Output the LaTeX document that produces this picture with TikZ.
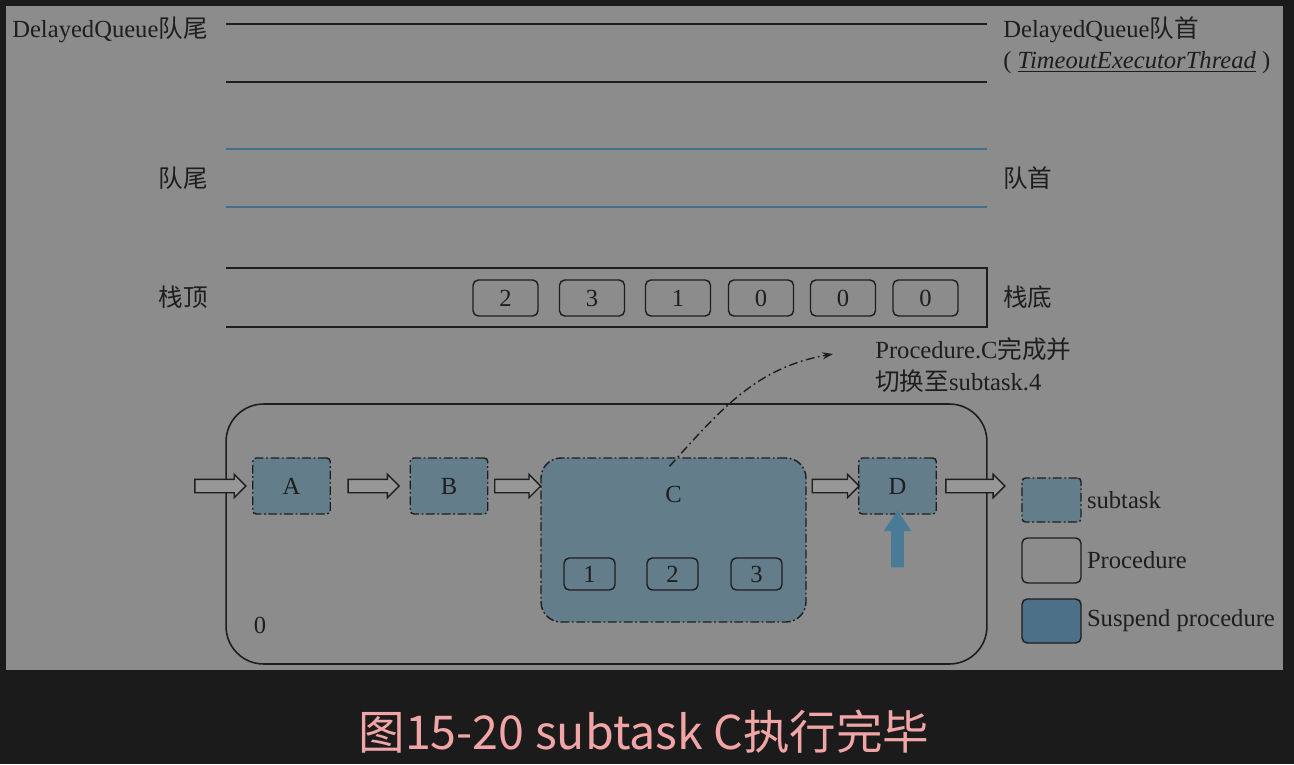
\documentclass[tikz,border=0pt]{standalone}
\usepackage{fontspec}
\setmainfont{Liberation Serif}
\newfontfamily\cjk{Noto Sans CJK SC}
\usepackage{tikz}
\usetikzlibrary{shapes.arrows, arrows.meta, positioning, calc}
\usepackage{xcolor}
\definecolor{pagedark}{HTML}{1B1B1B}
\definecolor{panel}{HTML}{8C8C8C}
\definecolor{ink}{HTML}{1E1E1E}
\definecolor{qblue}{HTML}{41718A}
\definecolor{subfill}{HTML}{647D8B}
\definecolor{suspfill}{HTML}{4B7088}
\definecolor{flowfill}{HTML}{979797}
\definecolor{upblue}{HTML}{4A7B96}
\definecolor{capink}{HTML}{F2A5A6}
\newcommand{\zhtext}[1]{{\cjk #1}}
\tikzset{
    lbl/.style={inner sep=0pt, text=ink, font=\fontsize{14}{18}\selectfont},
    queueline/.style={draw=ink, line width=1.2pt},
    blueline/.style={draw=qblue, line width=1.2pt},
    slot/.style={rectangle, draw=ink, line width=0.8pt, rounded corners=3pt, minimum width=1.3cm, minimum height=0.72cm, text=ink, font=\fontsize{14}{18}\selectfont},
    subtask/.style={rectangle, draw=ink, fill=subfill, line width=0.8pt, rounded corners=2pt,
        dash pattern=on 5pt off 1.5pt on 1pt off 1.5pt, minimum width=1.55cm, minimum height=1.12cm,
        text=ink, font=\fontsize{14}{18}\selectfont},
    procbox/.style={rectangle, draw=ink, line width=0.8pt, rounded corners=3pt, minimum width=1.02cm, minimum height=0.64cm,
        text=ink, font=\fontsize{14}{18}\selectfont},
    flow/.style={single arrow, draw=ink, fill=flowfill, line width=0.8pt, inner sep=0.12cm,
        single arrow head extend=0.1cm, single arrow head indent=0pt, minimum height=1.02cm},
    uparrow/.style={single arrow, fill=upblue, inner sep=0.12cm, shape border rotate=90,
        single arrow head extend=0.15cm, single arrow tip angle=68, minimum height=1.14cm},
    notearrow/.style={draw=ink, line width=0.8pt, dash pattern=on 5pt off 2pt on 1pt off 2pt, -{Stealth[length=6pt,width=4pt]}}
}
\begin{document}
\begin{tikzpicture}[x=0.02cm, y=-0.02cm]
    \useasboundingbox (0,0) rectangle (1294,764);
    \fill[pagedark] (0,0) rectangle (1294,764);
    \fill[panel] (6,6) rectangle (1283,670);
    % DelayedQueue
    \draw[queueline] (226,24) -- (987,24);
    \draw[queueline] (226,82) -- (987,82);
    \node[lbl, anchor=east] (dqtail) at (208,30) {DelayedQueue\zhtext{队尾}};
    \node[lbl, anchor=west] (dqhead) at (1003,30) {DelayedQueue\zhtext{队首}};
    \node[lbl, anchor=west] (dqthread) at (1003,63) {( \underline{\textit{TimeoutExecutorThread}} )};
    % queue
    \draw[blueline] (226,149) -- (987,149);
    \draw[blueline] (226,207) -- (987,207);
    \node[lbl, anchor=east] (qtail) at (208,178) {\zhtext{队尾}};
    \node[lbl, anchor=west] (qhead) at (1003,178) {\zhtext{队首}};
    % stack
    \draw[queueline] (226,268) -- (987,268) -- (987,327) -- (226,327);
    \node[lbl, anchor=east] (stacktop) at (208,297) {\zhtext{栈顶}};
    \node[lbl, anchor=west] (stackbottom) at (1003,297) {\zhtext{栈底}};
    \foreach \v/\x [count=\i] in {2/505.5, 3/592, 1/678, 0/761, 0/843, 0/925.5}
        \node[slot] (s\i) at (\x,298) {\v};
    % procedure 0
    \node[rectangle, draw=ink, line width=0.9pt, rounded corners=0.75cm, minimum width=15.22cm, minimum height=5.2cm] (p0) at (606.5,534) {};
    \node[lbl] (p0name) at (260,625) {0};
    \node[subtask] (A) at (291.5,486) {A};
    \node[subtask] (B) at (449,486) {B};
    \node[subtask, rounded corners=0.4cm, minimum width=5.3cm, minimum height=3.28cm] (C) at (673.5,540) {};
    \node[lbl] (Cname) at (673.5,494) {C};
    \node[subtask] (D) at (897.5,486) {D};
    \node[procbox, fill=subfill] (c1) at (589.5,574) {1};
    \node[procbox, fill=subfill] (c2) at (672.5,574) {2};
    \node[procbox, fill=subfill] (c3) at (756.5,574) {3};
    % flow arrows
    \node[flow] (inflow) at ($(A.west)+(-35,0)$) {};
    \node[flow] (ab) at ($(A.east)!0.5!(B.west)$) {};
    \node[flow, minimum height=0.92cm] (bc) at ($(B.east)!0.5!(C.west |- B.east)$) {};
    \node[flow, minimum height=0.94cm] (cd) at ($(C.east |- D.west)!0.5!(D.west)$) {};
    \node[flow, minimum height=1.18cm] (outflow) at ($(D.east)+(35,0)$) {};
    \node[uparrow] (resume) at ($(D.south)+(0,29)$) {};
    % switch note
    \node[lbl, anchor=west, align=left] (note) at (875,365) {Procedure.C\zhtext{完成并}\\\zhtext{切换至}subtask.4};
    \coordinate (notetip) at ($(note.west)+(-42,-11)$);
    \draw[notearrow] ($(C.north)+(-4,9)$) to[out=48, in=190] (notetip);
    % legend
    \node[subtask, minimum width=1.18cm, minimum height=0.88cm] (lgsub) at (1051.5,500) {};
    \node[procbox, minimum width=1.18cm, minimum height=0.9cm] (lgproc) at (1051.5,560.5) {};
    \node[procbox, fill=suspfill, minimum width=1.18cm, minimum height=0.88cm] (lgsusp) at (1051.5,621) {};
    \node[lbl, anchor=west] at ($(lgsub.east)+(5,0)$) {subtask};
    \node[lbl, anchor=west] at ($(lgproc.east)+(5,0)$) {Procedure};
    \node[lbl, anchor=west] at ($(lgsusp.east)+(5,0)$) {Suspend procedure};
    % caption
    \node[text=capink, font=\cjk\fontsize{26.5}{30}\selectfont] (caption) at (644,732) {图15-20 subtask C执行完毕};
\end{tikzpicture}
\end{document}
